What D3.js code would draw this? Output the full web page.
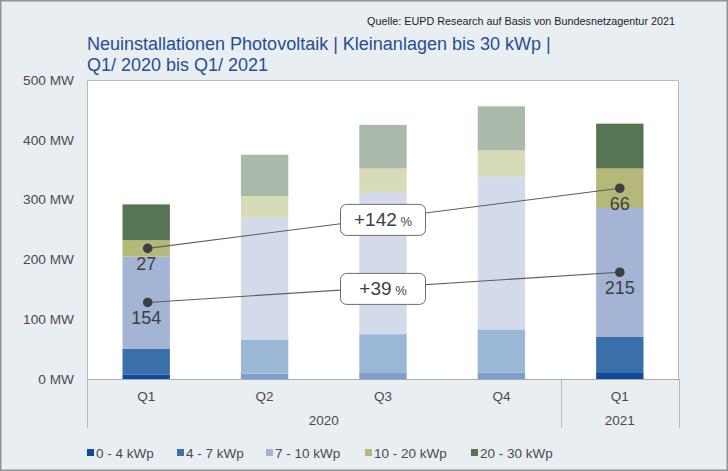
<!DOCTYPE html>
<html>
<head>
<meta charset="utf-8">
<script src="https://cdn.jsdelivr.net/npm/d3@7/dist/d3.min.js"></script>
<style>
  html, body { margin: 0; padding: 0; background: #e9eef3; }
  svg { display: block; }
  text { font-family: "Liberation Sans", Arial, sans-serif; }
</style>
</head>
<body>
<svg id="chart" width="728" height="471"></svg>
<script>
// ---------- data ----------
const quarters = ["Q1", "Q2", "Q3", "Q4", "Q1"];
const years = ["2020", "2020", "2020", "2020", "2021"];
const yearGroups = [{ year: "2020", from: 0, to: 3 }, { year: "2021", from: 4, to: 4 }];
const seriesNames = ["0 - 4 kWp", "4 - 7 kWp", "7 - 10 kWp", "10 - 20 kWp", "20 - 30 kWp"];
const s0_4   = [7, 9, 10, 11, 10];
const s4_7   = [44, 57, 65, 72, 61];
const s7_10  = [154, 204, 238, 256, 215];
const s10_20 = [27, 36, 39, 43, 66];
const s20_30 = [60, 69, 73, 74, 75];
const highlighted = [true, false, false, false, true];
const yTicks = [0, 100, 200, 300, 400, 500];
const growthLabels = [
  { series: 3, text: "+142" },
  { series: 2, text: "+39" }
];
const title1 = "Neuinstallationen Photovoltaik | Kleinanlagen bis 30 kWp |";
const title2 = "Q1/ 2020 bis Q1/ 2021";
const source = "Quelle: EUPD Research auf Basis von Bundesnetzagentur 2021";

// ---------- styles ----------
const colorsStrong = ["#10489b", "#3a70aa", "#a4b4d4", "#b5b878", "#567653"];
const colorsFaded  = ["#7d9ecc", "#9ab8d6", "#d3dbea", "#d8dbb8", "#aab9aa"];

const series = [s0_4, s4_7, s7_10, s10_20, s20_30];
const rows = quarters.map((q, i) => {
  const r = { idx: i, q: q, year: years[i] };
  seriesNames.forEach((n, k) => r[n] = series[k][i]);
  return r;
});

const svg = d3.select("#chart");
const W = 728, H = 471;
const plot = { left: 87, right: 679, top: 80, bottom: 379 };

// background + border
svg.append("rect").attr("x", 0.75).attr("y", 0.75).attr("width", W - 1.5).attr("height", H - 1.5)
  .attr("fill", "#e9eef3").attr("stroke", "#8f9396").attr("stroke-width", 1.5);

// scales
const x = d3.scaleBand().domain(d3.range(quarters.length))
  .range([plot.left, plot.right]).paddingInner(0.6).paddingOuter(0.3);
const xOuter = d3.scaleBand().domain(d3.range(quarters.length)).range([plot.left, plot.right]);
const y = d3.scaleLinear().domain([0, 500]).range([plot.bottom, plot.top]);

// plot area
svg.append("rect").attr("x", plot.left).attr("y", plot.top)
  .attr("width", plot.right - plot.left).attr("height", plot.bottom - plot.top)
  .attr("fill", "#ffffff");

// stacked bars
const stack = d3.stack().keys(seriesNames)(rows);
const layers = svg.append("g").selectAll("g").data(stack).join("g");
layers.selectAll("rect").data((d, k) => d.map(p => ({ p, k })))
  .join("rect")
  .attr("x", d => x(d.p.data.idx))
  .attr("width", x.bandwidth())
  .attr("y", d => y(d.p[1]))
  .attr("height", d => y(d.p[0]) - y(d.p[1]))
  .attr("fill", d => highlighted[d.p.data.idx] ? colorsStrong[d.k] : colorsFaded[d.k]);

// plot border (top/left/right) and baseline
const gridG = svg.append("g").attr("fill", "none").attr("stroke", "#b9bcbf").attr("stroke-width", 1);
gridG.append("path").attr("d", `M${plot.left + 0.5},${plot.bottom}V${plot.top + 0.5}H${plot.right - 0.5}V${plot.bottom}`);
gridG.append("line").attr("x1", plot.left).attr("x2", plot.right)
  .attr("y1", plot.bottom + 0.5).attr("y2", plot.bottom + 0.5).attr("stroke", "#a9acaf");

// y axis
const yAxis = d3.axisLeft(y).tickValues(yTicks).tickSize(0).tickPadding(13)
  .tickFormat(d => d + " MW");
const yG = svg.append("g").attr("transform", `translate(${plot.left},0)`).call(yAxis);
yG.select(".domain").remove();
yG.selectAll("text").attr("font-size", 13.7).attr("fill", "#4a4a4a")
  .attr("font-family", "'Liberation Sans', Arial, sans-serif");

// category axis (two levels)
const catG = svg.append("g");
catG.selectAll("text.q").data(rows).join("text").attr("class", "q")
  .attr("x", d => xOuter(d.idx) + xOuter.bandwidth() / 2)
  .attr("y", 401).attr("text-anchor", "middle")
  .attr("font-size", 13.5).attr("fill", "#4a4a4a").text(d => d.q);
catG.selectAll("text.yr").data(yearGroups).join("text").attr("class", "yr")
  .attr("x", d => (xOuter(d.from) + xOuter(d.to) + xOuter.bandwidth()) / 2)
  .attr("y", 425).attr("text-anchor", "middle")
  .attr("font-size", 13.5).attr("fill", "#4a4a4a").text(d => d.year);
const sepX = [xOuter(0), xOuter(4), xOuter(4) + xOuter.bandwidth()];
catG.selectAll("line").data(sepX).join("line")
  .attr("x1", d => Math.round(d) + 0.5).attr("x2", d => Math.round(d) + 0.5)
  .attr("y1", plot.bottom).attr("y2", 428)
  .attr("stroke", "#b9bcbf").attr("stroke-width", 1);

// annotations: connecting lines, dots, value labels, growth boxes
const first = 0, last = quarters.length - 1;
const midY = (k, i) => y(stack[k][i][0] + (stack[k][i][1] - stack[k][i][0]) / 2);
const cx = i => x(i) + x.bandwidth() / 2;
const annG = svg.append("g");
growthLabels.forEach(g => {
  const x1 = cx(first) + 1.5, y1 = midY(g.series, first);
  const x2 = cx(last), y2 = midY(g.series, last);
  annG.append("line").attr("x1", x1).attr("y1", y1).attr("x2", x2).attr("y2", y2)
    .attr("stroke", "#5a5d60").attr("stroke-width", 1.1);
  [[first, x1], [last, x2]].forEach(([i, px]) => {
    annG.append("circle").attr("cx", px).attr("cy", midY(g.series, i)).attr("r", 4.8)
      .attr("fill", "#3d3f42");
    annG.append("text").attr("x", cx(i)).attr("y", midY(g.series, i) + 22)
      .attr("text-anchor", "middle").attr("font-size", 18).attr("fill", "#3d3f42")
      .text(series[g.series][i]);
  });
  // box at Q3 position
  const bx = cx(2);
  const by = y1 + (y2 - y1) * (bx - x1) / (x2 - x1) + 1.5;
  const bw = 85, bh = 31;
  annG.append("rect").attr("x", bx - bw / 2).attr("y", by - bh / 2).attr("width", bw).attr("height", bh)
    .attr("rx", 6).attr("fill", "#ffffff").attr("stroke", "#6a6d70").attr("stroke-width", 1);
  const t = annG.append("text").attr("x", bx).attr("y", by + 6.5).attr("text-anchor", "middle")
    .attr("fill", "#3d3f42");
  t.append("tspan").attr("font-size", 19).text(g.text);
  t.append("tspan").attr("font-size", 13).text(" %");
});

// title + source
svg.append("text").attr("x", 675).attr("y", 25).attr("text-anchor", "end")
  .attr("font-size", 10.8).attr("fill", "#1c1c1c").text(source);
const tG = svg.append("g").attr("fill", "#1f4f93");
tG.append("text").attr("x", 87).attr("y", 50).attr("font-size", 18).text(title1);
tG.append("text").attr("x", 87).attr("y", 71).attr("font-size", 18).text(title2);

// legend
const legItems = seriesNames.map((n, k) => ({ n, k }));
const legX = [87, 177, 266, 365, 471];
const legG = svg.append("g");
const li = legG.selectAll("g").data(legItems).join("g")
  .attr("transform", (d, k) => `translate(${legX[k]},453)`);
li.append("rect").attr("x", 0).attr("y", -4).attr("width", 7).attr("height", 7)
  .attr("fill", d => colorsStrong[d.k]);
li.append("text").attr("x", 9).attr("y", 4.5).attr("font-size", 13.5).attr("fill", "#4a4a4a")
  .text(d => d.n);
</script>
</body>
</html>
